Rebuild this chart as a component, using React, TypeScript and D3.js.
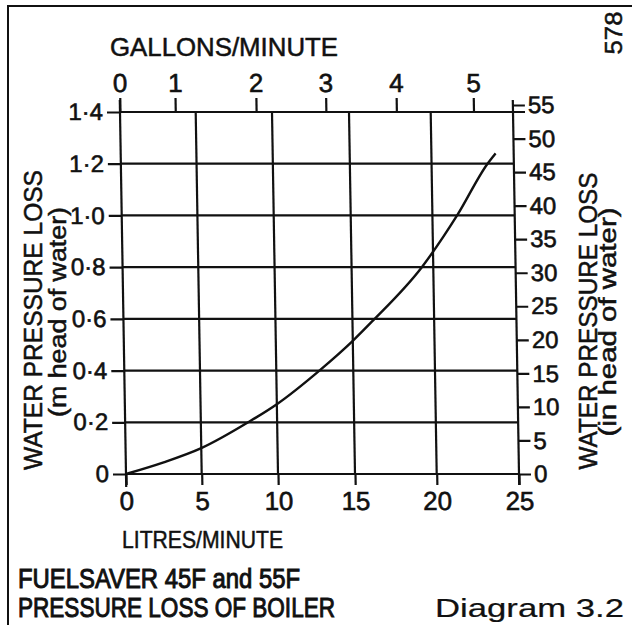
import { useEffect, useRef } from "react";
import * as d3 from "d3";

// curve: flow in litres/minute vs head loss in metres
const flowLitres = [0, 2.5, 5, 8.1, 10, 12.8, 15, 16.2, 19.3, 21.5, 23.4, 23.9];
const lossMetres = [0, 0.045, 0.1, 0.2, 0.27, 0.4, 0.515, 0.59, 0.8, 1.0, 1.2, 1.24];

const litreTicks = [0, 5, 10, 15, 20, 25];
const metreTicks = [0, 0.2, 0.4, 0.6, 0.8, 1.0, 1.2, 1.4];
const inchTicks = [0, 5, 10, 15, 20, 25, 30, 35, 40, 45, 50, 55];
const gallonLabels = ["0", "1", "2", "3", "4", "5"];
// where each gallon tick sits on the litre scale (as drawn)
const gallonAtLitres = [0, 3.65, 8.96, 13.5, 17.9, 22.6];

const FONT = "'Liberation Sans', Arial, Helvetica, sans-serif";
const INK = "#111";

export default function App() {
  const ref = useRef<SVGSVGElement | null>(null);

  useEffect(() => {
    if (!ref.current) return;
    const width = 632;
    const height = 625;

    const svg = d3.select(ref.current).attr("viewBox", `0 0 ${width} ${height}`);
    svg.selectAll("*").remove();

    svg.append("rect").attr("width", width).attr("height", height).attr("fill", "#fff");

    /* ---------------- SCALES ---------------- */
    // the printed grid is not evenly spaced, so keep its measured stops
    const x = d3
      .scaleLinear()
      .domain(litreTicks)
      .range([126, 201.7, 278, 355, 436.7, 519]);

    const y = d3.scaleLinear().domain([0, 1.4]).range([474, 112]);
    const yIn = d3.scaleLinear().domain([0, 55]).range([474, 105]);

    // the scan is slightly sheared: verticals lean ~6px left at the top
    const k = 6 / 362;
    const shear = (Math.atan(k) * 180) / Math.PI;
    const g = svg
      .append("g")
      .attr("transform", `translate(${-k * 474},0) skewX(${shear})`);

    /* ---------------- GRID ---------------- */
    g.append("g")
      .selectAll("line")
      .data(litreTicks.slice(1, -1))
      .enter()
      .append("line")
      .attr("x1", d => x(d))
      .attr("x2", d => x(d))
      .attr("y1", y(1.4))
      .attr("y2", y(0))
      .attr("stroke", INK)
      .attr("stroke-width", 2.2);

    g.append("g")
      .selectAll("line")
      .data(metreTicks.slice(0, -1))
      .enter()
      .append("line")
      .attr("x1", x(0))
      .attr("x2", x(25))
      .attr("y1", d => y(d))
      .attr("y2", d => y(d))
      .attr("stroke", INK)
      .attr("stroke-width", 2.2);

    // top line runs a little past the right axis
    g.append("line")
      .attr("x1", x(0))
      .attr("x2", x(25) + 12)
      .attr("y1", y(1.4))
      .attr("y2", y(1.4))
      .attr("stroke", INK)
      .attr("stroke-width", 2.2);

    // axis spines, overshooting the grid
    g.append("line")
      .attr("x1", x(0)).attr("x2", x(0))
      .attr("y1", y(1.4) - 12).attr("y2", y(0) + 13)
      .attr("stroke", INK).attr("stroke-width", 2.2);
    g.append("line")
      .attr("x1", x(25)).attr("x2", x(25))
      .attr("y1", y(1.4) - 12).attr("y2", y(0) + 11)
      .attr("stroke", INK).attr("stroke-width", 2.2);

    /* ---------------- AXES ---------------- */
    const style = (sel: d3.Selection<SVGGElement, unknown, null, undefined>, size: number) => {
      sel.select(".domain").remove();
      sel.selectAll(".tick line").attr("stroke", INK).attr("stroke-width", 2.2);
      sel
        .selectAll(".tick text")
        .attr("fill", INK)
        .attr("stroke", INK)
        .attr("stroke-width", 0.6)
        .style("font-family", FONT)
        .style("font-size", `${size}px`);
    };

    const left = g
      .append("g")
      .attr("transform", `translate(${x(0)},0)`)
      .call(
        d3
          .axisLeft(y)
          .tickValues(metreTicks)
          .tickSize(13)
          .tickPadding(4)
          .tickFormat(d => (d === 0 ? "0" : d3.format(".1f")(Number(d)).replace(".", "·")))
      );
    style(left, 24);

    const right = g
      .append("g")
      .attr("transform", `translate(${x(25)},0)`)
      .call(d3.axisRight(yIn).tickValues(inchTicks).tickSize(12).tickPadding(3));
    style(right, 24);

    const bottom = g
      .append("g")
      .attr("transform", `translate(0,${y(0)})`)
      .call(d3.axisBottom(x).tickValues(litreTicks).tickSize(11).tickPadding(7).tickFormat(d3.format("d")));
    style(bottom, 26);

    const top = g
      .append("g")
      .attr("transform", `translate(0,${y(1.4)})`)
      .call(
        d3
          .axisTop(x)
          .tickValues(gallonAtLitres)
          .tickSize(14)
          .tickPadding(6)
          .tickFormat((_, i) => gallonLabels[i])
      );
    style(top, 26);

    /* ---------------- CURVE ---------------- */
    const pts = flowLitres.map((l, i) => [l, lossMetres[i]] as [number, number]);
    const line = d3
      .line<[number, number]>()
      .x(d => x(d[0]))
      .y(d => y(d[1]))
      .curve(d3.curveMonotoneX);

    g.append("path")
      .datum(pts)
      .attr("fill", "none")
      .attr("stroke", INK)
      .attr("stroke-width", 2.4)
      .attr("d", line);

    /* ---------------- FRAME ---------------- */
    svg.append("line")
      .attr("x1", 8).attr("x2", 632).attr("y1", 6).attr("y2", 6)
      .attr("stroke", INK).attr("stroke-width", 2);
    svg.append("line")
      .attr("x1", 8).attr("x2", 8).attr("y1", 5).attr("y2", 625)
      .attr("stroke", INK).attr("stroke-width", 2);

    /* ---------------- TEXT ---------------- */
    const label = (
      txt: string,
      tx: number,
      ty: number,
      size: number,
      len: number,
      opts: { rotate?: boolean; anchor?: string; heavy?: number } = {}
    ) => {
      const t = svg
        .append("text")
        .attr("transform", `translate(${tx},${ty})${opts.rotate ? " rotate(-90)" : ""}`)
        .attr("text-anchor", opts.anchor ?? "start")
        .attr("fill", INK)
        .attr("stroke", INK)
        .attr("stroke-width", opts.heavy ?? 0.5)
        .style("font-family", FONT)
        .style("font-size", `${size}px`)
        .attr("textLength", len)
        .attr("lengthAdjust", "spacingAndGlyphs")
        .text(txt);
      return t;
    };

    label("GALLONS/MINUTE", 110, 56, 25, 228);
    label("578", 622, 33, 24, 43, { rotate: true, anchor: "middle" });
    label("WATER PRESSURE LOSS", 42, 320, 25, 300, { rotate: true, anchor: "middle" });
    label("(m head of water)", 66, 312, 23, 210, { rotate: true, anchor: "middle" });
    label("WATER PRESSURE LOSS", 597, 321, 25, 297, { rotate: true, anchor: "middle" });
    label("(in head of water)", 616, 322, 23, 229, { rotate: true, anchor: "middle" });
    label("LITRES/MINUTE", 122, 548, 24, 161);
    label("FUELSAVER 45F and 55F", 18, 588, 27, 282, { heavy: 1 });
    label("PRESSURE LOSS OF BOILER", 18, 617, 27, 317, { heavy: 1 });
    label("Diagram 3.2", 435, 617, 25, 189, { heavy: 0.2 });
  }, []);

  return (
    <svg
      ref={ref}
      width={632}
      height={625}
      style={{ position: "absolute", left: 0, top: 0, display: "block" }}
    />
  );
}
